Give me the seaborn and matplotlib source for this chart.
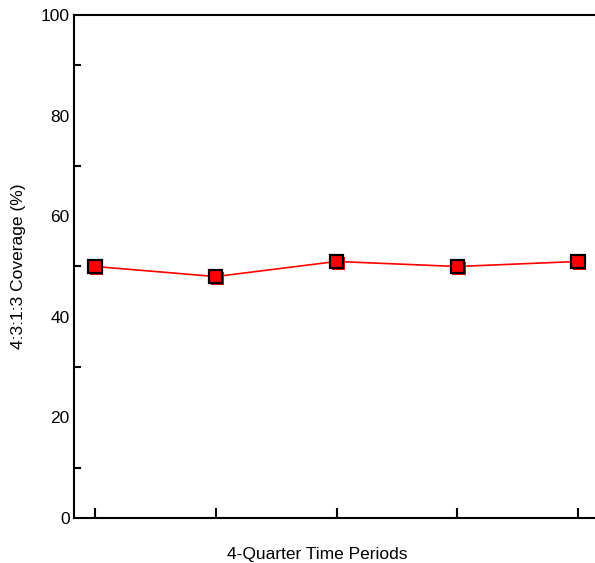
import matplotlib
matplotlib.use('Agg')
import matplotlib.pyplot as plt
import matplotlib.patheffects as pe
import seaborn as sns
import pandas as pd
from matplotlib.ticker import MultipleLocator, NullFormatter

# data
periods = [1, 2, 3, 4, 5]
coverage = [50, 48, 51, 50, 51]

df = pd.DataFrame({'period': periods, 'coverage': coverage})

sns.set_style('ticks')
plt.rcParams['font.family'] = ['Liberation Sans', 'DejaVu Sans']
plt.rcParams['text.color'] = 'black'
plt.rcParams['axes.labelcolor'] = 'black'
plt.rcParams['xtick.color'] = 'black'
plt.rcParams['ytick.color'] = 'black'

fig = plt.figure(figsize=(5.95, 5.63), dpi=100)
ax = fig.add_axes([0.1244, 0.0799, 0.8756, 0.8935])

# line
sns.lineplot(data=df, x='period', y='coverage', ax=ax, color='red', linewidth=1.2)
# square markers with a red drop shadow
ax.plot(df['period'], df['coverage'], linestyle='none', marker='s', markersize=9.5,
        markerfacecolor='red', markeredgecolor='black', markeredgewidth=1.6,
        path_effects=[pe.SimplePatchShadow(offset=(1.2, -1.2), shadow_rgbFace='red', alpha=1.0),
                      pe.Normal()], zorder=3)

ax.set_xlim(0.826, 5.14)
ax.set_ylim(0, 100)
ax.set_xticks(periods)
ax.xaxis.set_major_formatter(NullFormatter())
ax.yaxis.set_major_locator(MultipleLocator(20))
ax.yaxis.set_minor_locator(MultipleLocator(10))
ax.tick_params(axis='x', direction='in', length=7, width=1.5)
ax.tick_params(axis='y', which='major', length=0, pad=3, labelsize=12.5)
ax.tick_params(axis='y', which='minor', direction='in', length=5, width=1.5)

for s in ['left', 'bottom', 'top']:
    ax.spines[s].set_linewidth(1.5)
    ax.spines[s].set_color('black')
ax.spines['right'].set_visible(False)

ax.set_xlabel('4-Quarter Time Periods', fontsize=12.5)
ax.set_ylabel('4:3:1:3 Coverage (%)', fontsize=12.5)
ax.xaxis.set_label_coords(0.466, -0.058)
ax.yaxis.set_label_coords(-0.093, 0.5)

fig.savefig('out.png', dpi=100)
